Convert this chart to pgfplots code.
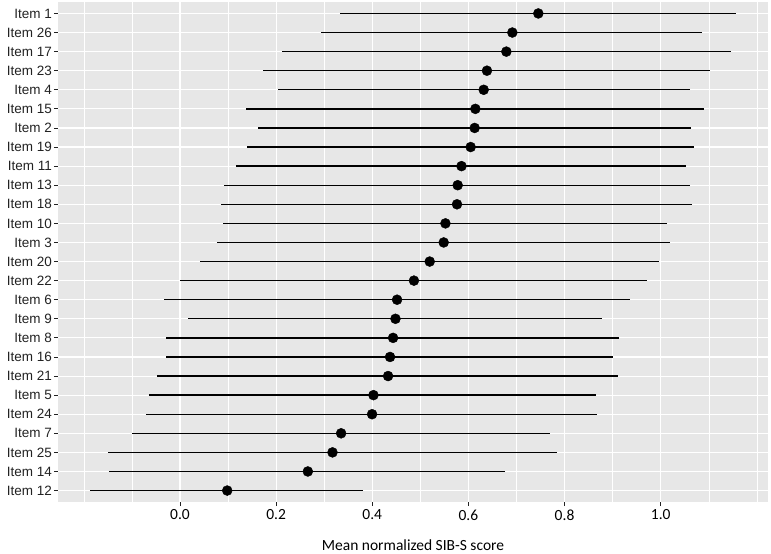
\documentclass[border=0pt]{standalone}
\usepackage{fontspec}
\setmainfont{Liberation Sans}
\newfontfamily\carlito{Carlito}
\usepackage{pgfplots}
\pgfplotsset{compat=1.18}
\usepackage{pgfplotstable}
\usetikzlibrary{calc}
\definecolor{panel}{HTML}{E7E7E7}
\definecolor{txt}{HTML}{222222}

\pgfplotstableread{
y lo mean hi
26 0.3325 0.7454 1.1569
25 0.2936 0.6914 1.0862
24 0.2113 0.6789 1.1467
23 0.1731 0.6386 1.1031
22 0.2043 0.6318 1.0599
21 0.1365 0.6145 1.0904
20 0.1615 0.6130 1.0626
19 0.1399 0.6047 1.0696
18 0.1170 0.5856 1.0536
17 0.0921 0.5777 1.0619
16 0.0858 0.5763 1.0655
15 0.0894 0.5522 1.0127
14 0.0763 0.5486 1.0197
13 0.0409 0.5195 0.9969
12 0.0000 0.4867 0.9719
11 -0.0326 0.4516 0.9358
10 0.0172 0.4483 0.8784
9 -0.0291 0.4433 0.9129
8 -0.0291 0.4370 0.9013
7 -0.0472 0.4329 0.9102
6 -0.0638 0.4025 0.8660
5 -0.0707 0.3996 0.8680
4 -0.1004 0.3352 0.7695
3 -0.1502 0.3173 0.7841
2 -0.1469 0.2660 0.6769
1 -0.1870 0.0983 0.3803
}\data

\begin{document}
\begin{tikzpicture}
\begin{axis}[
  scale only axis, width=710pt, height=500pt,
  xmin=-0.2537, xmax=1.2232, ymin=0.4, ymax=26.6,
  axis background/.style={fill=panel},
  axis line style={draw=none},
  xtick={0,0.2,0.4,0.6,0.8,1.0},
  xticklabels={0.0,0.2,0.4,0.6,0.8,1.0},
  minor xtick={-0.2,-0.1,0.1,0.3,0.5,0.7,0.9,1.1,1.2},
  ytick={1,...,26},
  yticklabels={Item 12,Item 14,Item 25,Item 7,Item 24,Item 5,Item 21,Item 16,Item 8,Item 9,Item 6,Item 22,Item 20,Item 3,Item 10,Item 18,Item 13,Item 11,Item 19,Item 2,Item 15,Item 4,Item 23,Item 17,Item 26,Item 1},
  xmajorgrids, xminorgrids, ymajorgrids,
  major grid style={white, line width=1.1pt},
  minor grid style={white, line width=0.55pt},
  tick align=outside, major tick length=4pt, minor tick length=0pt,
  xtick pos=bottom, ytick pos=left,
  tick style={txt, line width=0.8pt},
  /pgf/number format/assume math mode=true,
  xticklabel style={font=\carlito\fontsize{15.5}{15.5}\selectfont, text=black},
  yticklabel style={font=\fontsize{13.5}{13.5}\selectfont, text=txt, inner sep=2pt},
  xlabel={Mean normalized SIB-S score},
  xlabel style={font=\carlito\fontsize{15.5}{15.5}\selectfont, text=black, at={(axis description cs:0.5,0)}, anchor=center, yshift=-43pt},
]
\addplot[only marks, mark=*, mark size=5pt, black,
  error bars/.cd, x dir=both, x explicit, error mark=none,
  error bar style={line width=1.3pt, black}]
  table[x=mean, y=y,
    x error plus expr=\thisrow{hi}-\thisrow{mean},
    x error minus expr=\thisrow{mean}-\thisrow{lo}] {\data};
\coordinate (sw) at (rel axis cs:0,0);
\coordinate (ne) at (rel axis cs:1,1);
\end{axis}
\pgfresetboundingbox
\path ($(sw)+(-58pt,-51pt)$) rectangle ($(ne)+(3pt,2pt)$);
\end{tikzpicture}
\end{document}
